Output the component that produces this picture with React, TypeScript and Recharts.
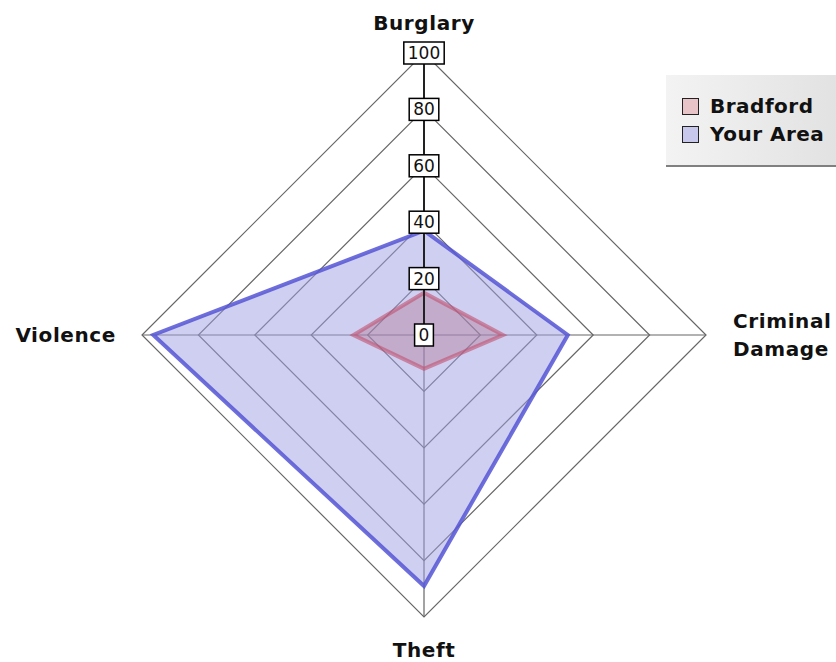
import React from "react";
import {
  RadarChart,
  Radar,
  PolarGrid,
  PolarAngleAxis,
  PolarRadiusAxis,
  Legend,
} from "recharts";

const CATEGORIES = ["Burglary", "Criminal Damage", "Theft", "Violence"];
const BRADFORD = [15, 28, 12, 25];
const YOUR_AREA = [37, 51, 89, 96];
const RADIUS_TICKS = [0, 20, 40, 60, 80, 100];

const data = CATEGORIES.map((name, i) => ({
  name,
  bradford: BRADFORD[i],
  yourArea: YOUR_AREA[i],
}));

const FONT = "'DejaVu Sans', Verdana, sans-serif";

const SERIES = [
  { key: "bradford", label: "Bradford", swatch: "#e8c4c8" },
  { key: "yourArea", label: "Your Area", swatch: "#c8c8ec" },
];

function AngleTick(props: any) {
  const { x, y, payload } = props;
  const name: string = payload.value;
  const style = { fontFamily: FONT, fontWeight: 700, fontSize: 20, fill: "#111", letterSpacing: 0.6 };
  if (name === "Burglary") {
    return <text x={x} y={y - 15} textAnchor="middle" style={style}>{name}</text>;
  }
  if (name === "Theft") {
    return <text x={x} y={y + 32} textAnchor="middle" style={style}>{name}</text>;
  }
  if (name === "Violence") {
    return <text x={x - 18} y={y + 7} textAnchor="end" style={style}>{name}</text>;
  }
  const parts = name.split(" ");
  return (
    <text x={x + 19} y={y - 7} textAnchor="start" style={style}>
      <tspan x={x + 19} dy={0}>{parts[0]}</tspan>
      <tspan x={x + 19} dy={28}>{parts[1]}</tspan>
    </text>
  );
}

function RadiusTick(props: any) {
  const { x, y, payload } = props;
  const label = String(payload.value);
  const w = label.length * 10.8 + 8;
  return (
    <g>
      <rect x={x - w / 2} y={y - 11} width={w} height={22} fill="#fff" stroke="#000" strokeWidth={1.5} />
      <text
        x={x}
        y={y + 6}
        textAnchor="middle"
        style={{ fontFamily: FONT, fontSize: 17, fill: "#111" }}
      >
        {label}
      </text>
    </g>
  );
}

function LegendBox() {
  return (
    <div
      style={{
        width: 172,
        height: 92,
        background: "linear-gradient(to right, #f3f3f3, #e2e2e2)",
        borderBottom: "2px solid #808080",
        boxSizing: "border-box",
        paddingTop: 17,
        paddingLeft: 16,
        fontFamily: FONT,
        fontWeight: 700,
        fontSize: 20,
        letterSpacing: 0.5,
        color: "#111",
      }}
    >
      {SERIES.map((s) => (
        <div key={s.key} style={{ display: "flex", alignItems: "center", height: 28 }}>
          <span
            style={{
              display: "inline-block",
              width: 15,
              height: 15,
              background: s.swatch,
              border: "1.5px solid #222",
              marginRight: 11,
            }}
          />
          {s.label}
        </div>
      ))}
    </div>
  );
}

export default function App() {
  return (
    <div style={{ position: "absolute", left: 0, top: 0, width: 836, height: 662, background: "#fff" }}>
      <RadarChart
        width={836}
        height={662}
        data={data}
        cx={424}
        cy={335}
        outerRadius={282}
        margin={{ top: 0, right: 0, bottom: 0, left: 0 }}
      >
        <PolarGrid gridType="polygon" stroke="#666" strokeWidth={1.2} />
        <PolarAngleAxis dataKey="name" tick={<AngleTick />} tickLine={false} axisLine={false} />
        <Radar
          name="Your Area"
          dataKey="yourArea"
          stroke="#5555d5"
          strokeWidth={4}
          strokeOpacity={0.85}
          fill="#a0a0e4"
          fillOpacity={0.5}
          isAnimationActive={false}
        />
        <Radar
          name="Bradford"
          dataKey="bradford"
          stroke="#c0506e"
          strokeWidth={4}
          strokeOpacity={0.6}
          fill="#b07090"
          fillOpacity={0.38}
          isAnimationActive={false}
        />
        <PolarRadiusAxis
          angle={90}
          domain={[0, 100]}
          ticks={RADIUS_TICKS as any}
          tickCount={6}
          tick={<RadiusTick />}
          axisLine={{ stroke: "#222", strokeWidth: 2 }}
          tickLine={false}
        />
        <Legend
          layout="vertical"
          verticalAlign="top"
          align="right"
          content={() => <LegendBox />}
          wrapperStyle={{ position: "absolute", left: 666, top: 75, width: 172 }}
        />
      </RadarChart>
    </div>
  );
}
